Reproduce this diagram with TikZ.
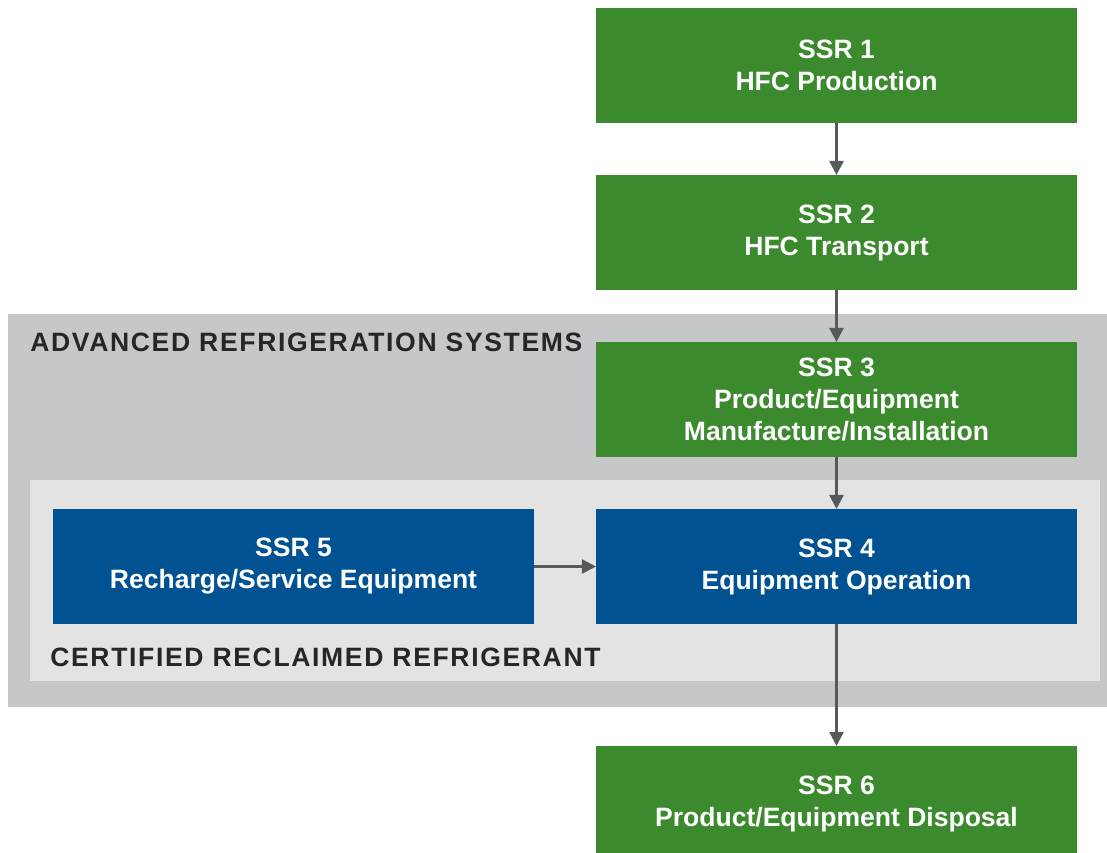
\documentclass[tikz,border=0pt]{standalone}
\usepackage{fontspec}
\setmainfont{Liberation Sans}
\usepackage{xcolor}
\usetikzlibrary{arrows.meta,positioning}

\definecolor{ssrgreen}{HTML}{3C8A2E}
\definecolor{ssrblue}{HTML}{005293}
\definecolor{outergrey}{HTML}{C6C7C9}
\definecolor{innergrey}{HTML}{E3E3E4}
\definecolor{arrowgrey}{HTML}{58595B}
\definecolor{labeltext}{HTML}{262626}

\begin{document}
\begin{tikzpicture}[
    ssrbox/.style={rectangle, inner sep=0pt, outer sep=0pt, minimum width=9.62cm, minimum height=2.3cm,
        text=white, align=center, font=\fontsize{15.1}{18.2}\selectfont\bfseries},
    greenbox/.style={ssrbox, fill=ssrgreen},
    bluebox/.style={ssrbox, fill=ssrblue},
    flow/.style={draw=arrowgrey, line width=1.3pt, -{Triangle[length=8pt, width=8pt]}},
    grouplabel/.style={anchor=base west, inner sep=0pt, text=labeltext,
        font=\fontsize{15.1}{18.2}\selectfont\bfseries\addfontfeature{LetterSpace=6.2}}
]
\useasboundingbox (0,0) rectangle (22.14,-17.06);

% group backgrounds
\fill[outergrey] (0.16,-6.28) rectangle (22.3,-14.14);
\fill[innergrey] (0.6,-9.6) rectangle (22.0,-13.62);
\node[grouplabel] (advanced) at (0.6,-7.02) {ADVANCED REFRIGERATION SYSTEMS};
\node[grouplabel] (certified) at (1.0,-13.32) {CERTIFIED RECLAIMED REFRIGERANT};

% source, sink and reservoir boxes
\node[greenbox] (ssr1) at (16.73,-1.31) {SSR 1\\HFC Production};
\node[greenbox, below=1.04cm of ssr1] (ssr2) {SSR 2\\HFC Transport};
\node[greenbox, below=1.04cm of ssr2] (ssr3) {SSR 3\\Product/Equipment\\Manufacture/Installation};
\node[bluebox, below=1.04cm of ssr3] (ssr4) {SSR 4\\Equipment Operation};
\node[bluebox, left=1.24cm of ssr4] (ssr5) {SSR 5\\Recharge/Service Equipment};
\node[greenbox, below=2.44cm of ssr4] (ssr6) {SSR 6\\Product/Equipment Disposal};

\draw[flow] (ssr1) -- (ssr2);
\draw[flow] (ssr2) -- (ssr3);
\draw[flow] (ssr3) -- (ssr4);
\draw[flow] (ssr5) -- (ssr4);
\draw[flow] (ssr4) -- (ssr6);

\end{tikzpicture}
\end{document}
